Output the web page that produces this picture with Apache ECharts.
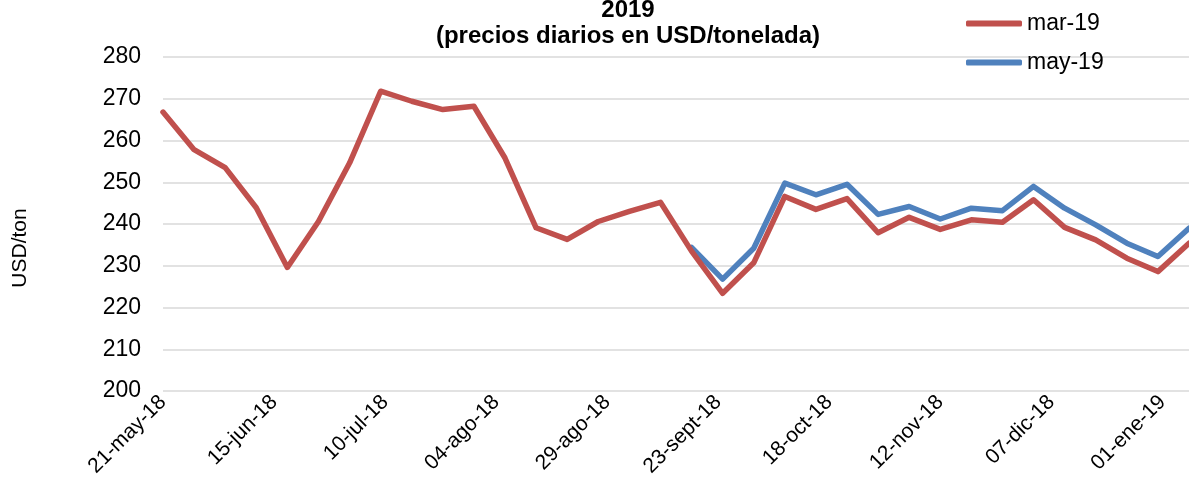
<!DOCTYPE html>
<html><head><meta charset="utf-8">
<script src="https://cdn.jsdelivr.net/npm/echarts@6/dist/echarts.min.js"></script>
<style>html,body{margin:0;padding:0;background:#fff}#c{width:1189px;height:487px}</style>
</head><body><div id="c"></div>
<script>
// Weekly observation dates
const weekDates = [
  '2018-05-21','2018-05-28','2018-06-04','2018-06-11','2018-06-18','2018-06-25',
  '2018-07-02','2018-07-09','2018-07-16','2018-07-23','2018-07-30','2018-08-06',
  '2018-08-13','2018-08-20','2018-08-27','2018-09-03','2018-09-10','2018-09-17',
  '2018-09-24','2018-10-01','2018-10-08','2018-10-15','2018-10-22','2018-10-29',
  '2018-11-05','2018-11-12','2018-11-19','2018-11-26','2018-12-03','2018-12-10',
  '2018-12-17','2018-12-24','2018-12-31','2019-01-07'
];
// mar-19 contract (USD/ton)
const mar19 = [
  266.8,257.8,253.5,243.9,229.6,240.6,254.6,271.8,269.4,267.4,268.2,255.8,
  239.1,236.3,240.6,243.0,245.2,233.5,223.4,230.7,246.6,243.5,246.1,237.9,
  241.6,238.7,241.0,240.4,245.8,239.2,236.2,231.8,228.6,235.4
];
// may-19 contract (USD/ton), starts at weekDates[17]
const may19StartIndex = 17;
const may19 = [
  234.4,226.8,234.2,249.8,247.0,249.5,242.3,244.2,241.2,243.8,243.2,249.0,
  243.8,239.8,235.4,232.2,239.0
];
// x-axis tick labels, every 25 days from 21-may-18
const xTickLabels = ['21-may-18','15-jun-18','10-jul-18','04-ago-18','29-ago-18',
  '23-sept-18','18-oct-18','12-nov-18','07-dic-18','01-ene-19'];
const yTicks = [200,210,220,230,240,250,260,270,280];

const axisStart = Date.UTC(2018,4,21);
function dayIndex(s){
  const p = s.split('-').map(Number);
  return Math.round((Date.UTC(p[0],p[1]-1,p[2]) - axisStart)/86400000);
}
const axisEnd = dayIndex(weekDates[weekDates.length-1]);
const marData = mar19.map((v,i)=>[dayIndex(weekDates[i]), v]);
const mayData = may19.map((v,i)=>[dayIndex(weekDates[i+may19StartIndex]), v]);

const FONT = '"Liberation Sans", Arial, sans-serif';
const chart = echarts.init(document.getElementById('c'), null, {renderer:'canvas'});
chart.setOption({
  animation:false,
  backgroundColor:'#fff',
  textStyle:{fontFamily:FONT, color:'#000'},
  title:{
    text:'2019\n(precios diarios en USD/tonelada)',
    left:628, top:-3, textAlign:'center', padding:0,
    textStyle:{fontFamily:FONT, fontSize:24, fontWeight:'bold', color:'#000', lineHeight:26}
  },
  legend:{
    orient:'vertical', left:966, top:12, padding:0,
    itemWidth:56, itemHeight:6, itemGap:16, icon:'roundRect',
    textStyle:{fontFamily:FONT, fontSize:23, color:'#000', lineHeight:23},
    data:['mar-19','may-19']
  },
  graphic:[{
    type:'text', x:20, y:248, rotation:Math.PI/2,
    style:{text:'USD/ton', fontFamily:FONT, fontSize:21, fill:'#000', textAlign:'center', textVerticalAlign:'middle'}
  }],
  grid:{left:163, right:0, top:57, bottom:96, containLabel:false},
  xAxis:{
    type:'value', min:0, max:axisEnd, interval:25,
    axisLine:{show:false}, axisTick:{show:false}, splitLine:{show:false},
    axisLabel:{
      rotate:45, margin:8, fontFamily:FONT, fontSize:21, color:'#000',
      showMaxLabel:false,
      formatter:function(v){ const k=v/25; return (Number.isInteger(k) && xTickLabels[k]) ? xTickLabels[k] : ''; }
    }
  },
  yAxis:{
    type:'value', min:yTicks[0], max:yTicks[yTicks.length-1], interval:10,
    axisLine:{show:false}, axisTick:{show:false},
    splitLine:{show:true, lineStyle:{color:'#D9D9D9', width:1.5}},
    axisLabel:{margin:22, fontFamily:FONT, fontSize:23, color:'#000'}
  },
  series:[
    {name:'mar-19', type:'line', data:marData, showSymbol:false, symbol:'none',
     color:'#C0504D', lineStyle:{width:5.5, color:'#C0504D', cap:'round', join:'round'}, z:3},
    {name:'may-19', type:'line', data:mayData, showSymbol:false, symbol:'none',
     color:'#4F81BD', lineStyle:{width:5.5, color:'#4F81BD', cap:'round', join:'round'}, z:2}
  ]
});
</script>
</body></html>
